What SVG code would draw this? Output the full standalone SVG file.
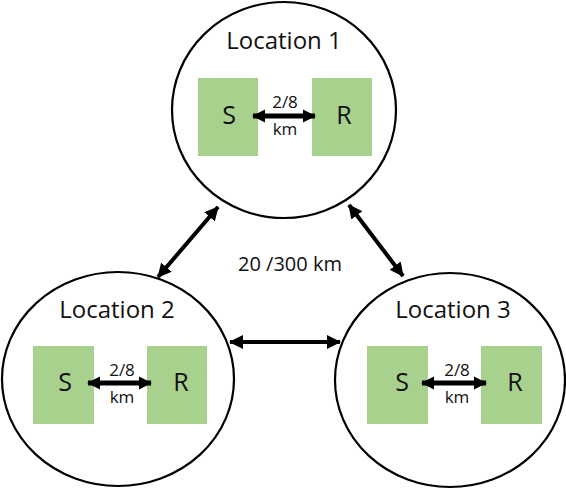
<svg xmlns="http://www.w3.org/2000/svg" width="566" height="489" viewBox="0 0 566 489">
<style>
.loc{fill:#fff;stroke:#000;stroke-width:2.2}
.box{fill:#a9d18e}
.t{font-family:"Open Sans","Liberation Sans",sans-serif;fill:#111;text-anchor:middle}
.title{font-size:24px}
.sr{font-size:25px}
.d{font-size:17px}
.big{font-size:20px}
.a{stroke:#000;fill:none}
</style>
<defs>
<marker id="ah" viewBox="0 0 14 14" refX="13" refY="7" markerWidth="14" markerHeight="14" markerUnits="userSpaceOnUse" orient="auto-start-reverse">
<path d="M0,0 L14,7 L0,14 z" fill="#000"/>
</marker>
<marker id="as" viewBox="0 0 14 14" refX="13" refY="7" markerWidth="13" markerHeight="14" markerUnits="userSpaceOnUse" orient="auto-start-reverse">
<path d="M0,0 L14,7 L0,14 z" fill="#000"/>
</marker>
</defs>
<g id="location1">
<ellipse class="loc" cx="284" cy="110" rx="112" ry="108"/>
<text class="t title" x="284" y="49">Location 1</text>
<rect class="box" x="198" y="78" width="60" height="78"/>
<rect class="box" x="312" y="78" width="60" height="78"/>
<text class="t sr" x="229" y="124">S</text>
<text class="t sr" x="344" y="124">R</text>
</g>
<g id="location2">
<ellipse class="loc" cx="118" cy="379" rx="116" ry="107"/>
<text class="t title" x="117" y="318">Location 2</text>
<rect class="box" x="33" y="346" width="61" height="78"/>
<rect class="box" x="147" y="346" width="60" height="78"/>
<text class="t sr" x="65" y="391">S</text>
<text class="t sr" x="181" y="391">R</text>
</g>
<g id="location3">
<ellipse class="loc" cx="450" cy="380" rx="115" ry="107"/>
<text class="t title" x="453" y="318">Location 3</text>
<rect class="box" x="367" y="346" width="61" height="78"/>
<rect class="box" x="481" y="346" width="61" height="78"/>
<text class="t sr" x="402" y="391">S</text>
<text class="t sr" x="515" y="391">R</text>
</g>
<g id="connectors">
<line class="a" x1="253" y1="116" x2="315" y2="116" stroke-width="5" marker-start="url(#as)" marker-end="url(#as)"/>
<line class="a" x1="88" y1="383" x2="151" y2="383" stroke-width="5" marker-start="url(#as)" marker-end="url(#as)"/>
<line class="a" x1="422" y1="383" x2="486" y2="383" stroke-width="5" marker-start="url(#as)" marker-end="url(#as)"/>
<line class="a" x1="218" y1="207" x2="158" y2="277" stroke-width="4" marker-start="url(#ah)" marker-end="url(#ah)"/>
<line class="a" x1="349" y1="205" x2="403" y2="276" stroke-width="4" marker-start="url(#ah)" marker-end="url(#ah)"/>
<line class="a" x1="230" y1="342" x2="340" y2="342" stroke-width="4" marker-start="url(#ah)" marker-end="url(#ah)"/>
</g>
<g id="labels">
<text class="t d" x="285" y="108">2/8</text>
<text class="t d" x="285" y="135">km</text>
<text class="t d" x="122" y="376">2/8</text>
<text class="t d" x="122" y="403">km</text>
<text class="t d" x="457" y="376">2/8</text>
<text class="t d" x="457" y="403">km</text>
<text class="t big" x="290" y="271">20 /300 km</text>
</g>
</svg>
